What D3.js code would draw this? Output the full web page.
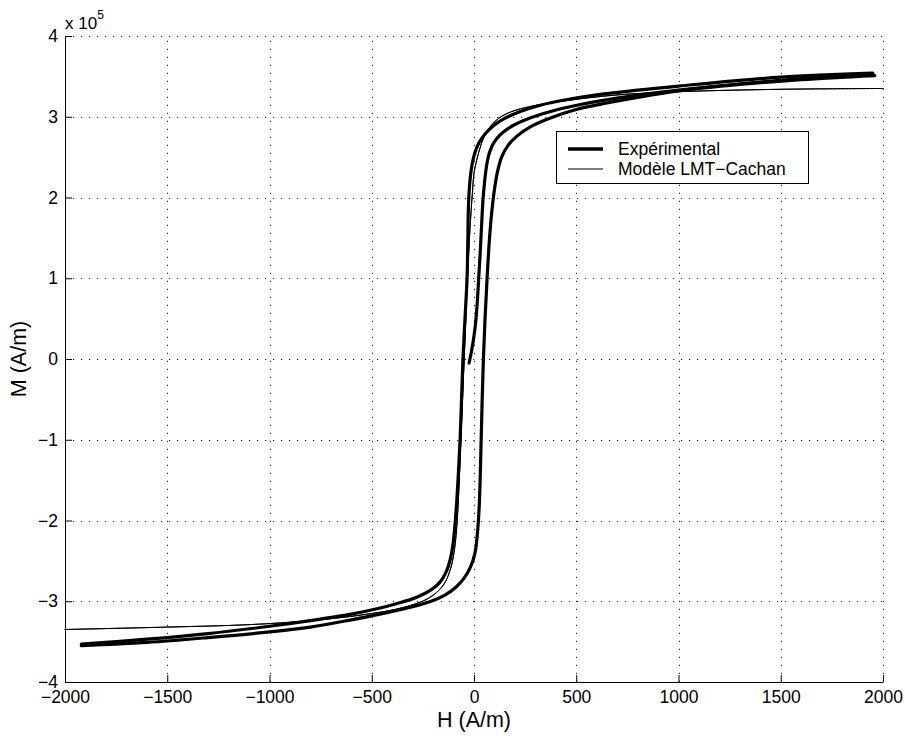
<!DOCTYPE html>
<html>
<head>
<meta charset="utf-8">
<script src="https://cdn.jsdelivr.net/npm/d3@7"></script>
<style>
  html, body { margin: 0; padding: 0; background: #fff; }
  text { font-family: "Liberation Sans", Arial, Helvetica, sans-serif; fill: #000; }
</style>
</head>
<body>
<svg id="chart" width="905" height="736"></svg>
<script>
// ---------- data (M in units of 1e5 A/m) ----------
const xTicks = [-2000, -1500, -1000, -500, 0, 500, 1000, 1500, 2000];
const yTicks = [-4, -3, -2, -1, 0, 1, 2, 3, 4];

// Experimental: initial magnetisation curve
const expInitH = [-24, -20, -12, -2, 8, 16, 23, 30, 37, 44, 52, 62, 75, 95, 125, 170, 240, 340, 480, 700, 1000, 1400, 1950];
const expInitM = [-0.05, 0, 0.1, 0.25, 0.45, 0.7, 1.0, 1.3, 1.65, 1.97, 2.2, 2.4, 2.55, 2.67, 2.77, 2.86, 2.95, 3.04, 3.13, 3.23, 3.33, 3.43, 3.53];

// Experimental: descending branch
const expDescH = [1950, 1500, 1000, 800, 600, 450, 320, 220, 150, 95, 55, 25, 5, -10, -20, -27, -30, -34, -44, -54, -61, -68, -76, -84, -93, -103, -116, -135, -165, -210, -280, -380, -470, -600, -800, -1000, -1300, -1600, -1920];
const expDescM = [3.54, 3.49, 3.38, 3.33, 3.27, 3.21, 3.14, 3.06, 2.98, 2.89, 2.79, 2.68, 2.56, 2.4, 2.2, 1.9, 1.5, 1.0, 0.5, 0, -0.5, -1.0, -1.4, -1.75, -2.05, -2.3, -2.48, -2.63, -2.76, -2.86, -2.95, -3.03, -3.09, -3.16, -3.24, -3.31, -3.40, -3.47, -3.53];

// Experimental: ascending branch
const expAscH = [-1920, -1600, -1300, -1000, -800, -600, -460, -320, -210, -140, -90, -50, -18, 5, 17, 25, 30, 35, 40, 46, 54, 64, 76, 88, 100, 115, 135, 165, 210, 280, 380, 500, 650, 800, 1000, 1300, 1600, 1960];
const expAscM = [-3.55, -3.51, -3.45, -3.38, -3.32, -3.23, -3.16, -3.08, -3.0, -2.92, -2.83, -2.72, -2.58, -2.4, -2.15, -1.85, -1.5, -1.0, -0.5, 0, 0.5, 1.0, 1.5, 1.85, 2.1, 2.32, 2.5, 2.64, 2.76, 2.88, 2.99, 3.09, 3.17, 3.24, 3.32, 3.40, 3.46, 3.51];

// Model LMT-Cachan: descending branch
const modDescH = [2000, 1500, 1000, 700, 450, 280, 180, 120, 80, 50, 28, 12, 0, -8, -20, -32, -40, -48, -56, -64, -72, -82, -95, -115, -150, -220, -350, -550, -800, -1100, -1500, -2000];
const modDescM = [3.35, 3.34, 3.31, 3.27, 3.2, 3.13, 3.06, 2.98, 2.88, 2.76, 2.6, 2.45, 2.3, 2.05, 1.6, 1.0, 0.5, 0, -0.5, -1.0, -1.5, -2.0, -2.35, -2.6, -2.8, -2.96, -3.08, -3.17, -3.24, -3.29, -3.32, -3.35];

// Model LMT-Cachan: ascending branch
const modAscH = [-2000, -1500, -1100, -800, -550, -350, -220, -150, -115, -95, -82, -72, -64, -56, -48, -40, -32, -20, -8, 0, 12, 28, 50, 80, 120, 180, 280, 450, 700, 1000, 1500, 2000];
const modAscM = [-3.35, -3.32, -3.29, -3.24, -3.17, -3.08, -2.96, -2.8, -2.6, -2.35, -2.0, -1.5, -1.0, -0.5, 0, 0.5, 1.0, 1.6, 2.05, 2.3, 2.45, 2.6, 2.76, 2.88, 2.98, 3.06, 3.13, 3.2, 3.27, 3.31, 3.34, 3.35];

const legendLabels = ["Expérimental", "Modèle LMT\u2212Cachan"];

// ---------- drawing ----------
const svg = d3.select("#chart");
const x = d3.scaleLinear().domain([-2000, 2000]).range([65, 883]);
const y = d3.scaleLinear().domain([-4, 4]).range([682, 36]);

const zip = (hs, ms) => hs.map((h, i) => [h, ms[i]]);
const line = d3.line().x(d => x(d[0])).y(d => y(d[1])).curve(d3.curveCatmullRom.alpha(0.5));

// grid
const grid = svg.append("g").attr("stroke", "#222").attr("stroke-width", 1).attr("stroke-dasharray", "1.2,6.8");
grid.selectAll("line.v").data(xTicks).join("line")
  .attr("x1", d => Math.round(x(d)) + 0.5).attr("x2", d => Math.round(x(d)) + 0.5)
  .attr("y1", y(-4)).attr("y2", y(4));
grid.selectAll("line.h").data(yTicks).join("line")
  .attr("y1", d => Math.round(y(d)) + 0.5).attr("y2", d => Math.round(y(d)) + 0.5)
  .attr("x1", x(-2000)).attr("x2", x(2000));

// curves
const curves = svg.append("g").attr("fill", "none").attr("stroke", "#000")
  .attr("stroke-linejoin", "round").attr("stroke-linecap", "round");
curves.append("path").attr("d", line(zip(modDescH, modDescM))).attr("stroke-width", 1);
curves.append("path").attr("d", line(zip(modAscH, modAscM))).attr("stroke-width", 1);
curves.append("path").attr("d", line(zip(expInitH, expInitM))).attr("stroke-width", 3.2);
curves.append("path").attr("d", line(zip(expDescH, expDescM))).attr("stroke-width", 3.2);
curves.append("path").attr("d", line(zip(expAscH, expAscM))).attr("stroke-width", 3.2);

// axes
const fmt = d3.format("d");
const xAxis = svg.append("g").attr("transform", `translate(0,${y(-4)})`)
  .call(d3.axisBottom(x).tickValues(xTicks).tickSizeInner(-7).tickSizeOuter(0).tickPadding(9).tickFormat(d => fmt(d)));
const yAxis = svg.append("g").attr("transform", `translate(${x(-2000)},0)`)
  .call(d3.axisLeft(y).tickValues(yTicks).tickSizeInner(-7).tickSizeOuter(0).tickPadding(7).tickFormat(d => fmt(d)));
[xAxis, yAxis].forEach(g => {
  g.selectAll("text").attr("font-size", 17.5).attr("font-family", "Liberation Sans, Arial, sans-serif");
  g.select(".domain").attr("stroke", "#000");
  g.selectAll(".tick line").attr("stroke", "#000");
});

// exponent label
const ex = svg.append("text").attr("x", 65).attr("y", 29).attr("font-size", 17);
ex.append("tspan").text("x 10");
ex.append("tspan").attr("dy", -10).attr("font-size", 12).text("5");

// axis titles
svg.append("text").attr("x", x(0)).attr("y", 727).attr("text-anchor", "middle")
  .attr("font-size", 21.5).text("H (A/m)");
svg.append("text").attr("transform", `translate(26,${y(0)}) rotate(-90)`).attr("text-anchor", "middle")
  .attr("font-size", 21.5).text("M (A/m)");

// legend
const lg = svg.append("g");
lg.append("rect").attr("x", 556.5).attr("y", 131.5).attr("width", 252).attr("height", 52)
  .attr("fill", "#fff").attr("stroke", "#000").attr("stroke-width", 1);
const lw = [3.5, 1];
legendLabels.forEach((t, i) => {
  const yy = 149 + i * 20;
  lg.append("line").attr("x1", 568).attr("x2", 603).attr("y1", yy).attr("y2", yy)
    .attr("stroke", "#000").attr("stroke-width", lw[i]);
  lg.append("text").attr("x", 618).attr("y", yy + 6).attr("font-size", 17.5).text(t);
});
</script>
</body>
</html>
